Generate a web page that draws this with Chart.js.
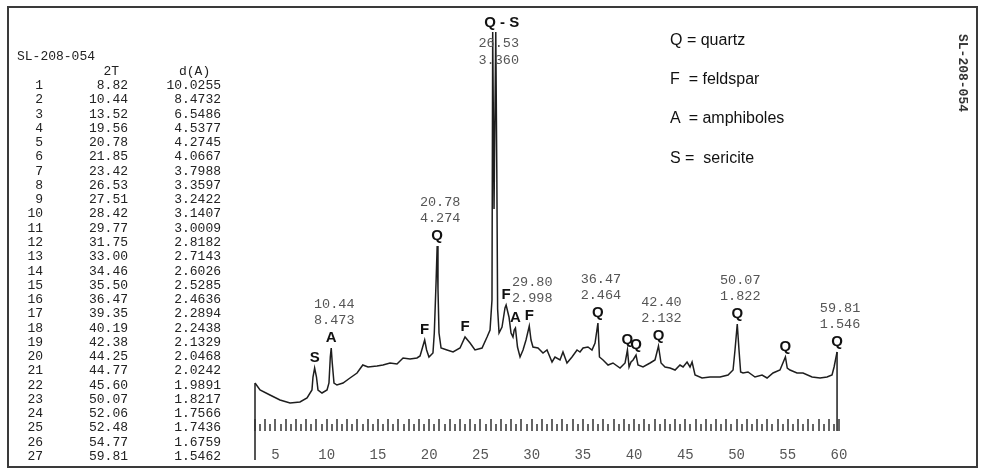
<!DOCTYPE html>
<html><head><meta charset="utf-8">
<script src="https://cdn.jsdelivr.net/npm/chart.js@4.4.1/dist/chart.umd.min.js"></script>
<style>
html,body{margin:0;padding:0;background:#fff;}
#wrap{position:relative;width:981px;height:470px;overflow:hidden;background:#fff;}
#frame{position:absolute;left:7px;top:6px;width:971px;height:462px;border:2px solid #3a3a3a;box-sizing:border-box;}
canvas{position:absolute;left:0;top:0;}
.cell{position:absolute;font-family:"Liberation Mono",monospace;font-size:13px;color:#222;white-space:pre;line-height:14px;height:14px;}
.leg{position:absolute;left:670px;font-family:"Liberation Sans",Arial,sans-serif;font-size:16px;color:#111;white-space:pre;line-height:18px;height:18px;}
#sid{position:absolute;left:922px;top:66px;width:80px;text-align:center;font-family:"Liberation Mono",monospace;font-size:13px;font-weight:bold;color:#333;line-height:14px;transform:rotate(90deg);transform-origin:40px 7px;white-space:pre;}
</style></head>
<body>
<div id="wrap">
<div id="frame"></div>
<canvas id="c" width="981" height="470"></canvas>
<div id="sid"></div>
</div>
<script>
// ---- data ----
const sampleId = "SL-208-054";
const twoTheta = [3.00,3.49,4.46,5.44,6.42,7.39,8.08,8.56,8.66,8.82,
9.00,9.15,9.54,10.03,10.22,10.35,10.44,10.54,10.71,11.00,
11.59,12.27,12.96,13.52,14.03,14.91,15.49,16.18,16.86,17.45,
18.13,18.81,19.11,19.56,19.75,19.98,20.37,20.50,20.67,20.78,
20.86,20.96,21.16,21.74,22.33,23.01,23.50,23.99,24.47,25.16,
25.65,25.94,26.13,26.20,26.33,26.50,26.60,26.68,26.82,27.11,
27.40,27.51,27.79,27.99,28.18,28.30,28.42,28.62,28.87,29.16,
29.45,29.77,29.94,30.13,30.62,31.11,31.50,31.99,32.28,32.77,
33.06,33.45,33.94,34.43,34.72,35.02,35.50,35.89,36.19,36.47,
36.62,36.97,37.46,37.94,38.63,39.12,39.35,39.51,39.70,39.90,
40.19,40.38,40.87,41.56,42.04,42.38,42.63,43.02,43.51,44.00,
44.48,44.78,45.17,45.46,45.66,45.95,46.63,47.41,48.39,49.17,
49.66,49.85,50.07,50.24,50.40,50.63,51.12,51.80,52.49,52.98,
53.56,54.24,54.77,54.95,55.22,55.90,56.49,57.37,58.15,58.83,
59.32,59.52,59.81];
const intensity = [36,29,24,19,16,17,21,29,42,51,
42,29,26,29,36,62,71,56,36,34,
36,41,46,54,52,53,54,56,55,61,
60,61,63,79,69,62,66,86,136,173,
130,86,71,69,67,71,82,76,69,71,
82,89,119,387,210,387,250,110,86,92,
111,114,102,86,82,89,91,72,62,69,
79,93,79,72,71,66,69,57,62,59,
67,56,62,69,67,71,72,69,76,96,
62,59,54,56,51,56,69,52,57,59,
64,54,52,56,59,73,56,52,51,49,
54,52,57,52,57,44,41,42,42,44,
49,69,95,69,47,46,47,42,44,41,
46,49,62,51,49,46,46,42,41,42,
44,52,67];

// peak identifications
const peakTheta = [8.82,10.44,19.56,20.78,23.42,26.53,27.51,28.42,29.77,36.47,39.35,40.19,42.38,50.07,54.77,59.81];
const peakPhase = ["S","A","F","Q","F","Q - S","F","A","F","Q","Q","Q","Q","Q","Q","Q"];
const peakLabel2T = ["","10.44","","20.78","","26.53","","","29.80","36.47","","","42.40","50.07","","59.81"];
const peakLabelD  = ["","8.473","","4.274","","3.360","","","2.998","2.464","","","2.132","1.822","","1.546"];

// mineral legend
const phaseCodes = ["Q","F ","A ","S"];
const phaseNames = ["quartz","feldspar","amphiboles"," sericite"];

// peak table
const table2T = ["8.82","10.44","13.52","19.56","20.78","21.85","23.42","26.53","27.51","28.42","29.77","31.75","33.00","34.46","35.50","36.47","39.35","40.19","42.38","44.25","44.77","45.60","50.07","52.06","52.48","54.77","59.81"];
const tableD  = ["10.0255","8.4732","6.5486","4.5377","4.2745","4.0667","3.7988","3.3597","3.2422","3.1407","3.0009","2.8182","2.7143","2.6026","2.5285","2.4636","2.2894","2.2438","2.1329","2.0468","2.0242","1.9891","1.8217","1.7566","1.7436","1.6759","1.5462"];

// x-axis tick labels
const xTickLabels = [5,10,15,20,25,30,35,40,45,50,55,60];

// ---- HTML text parts ----
const wrap = document.getElementById('wrap');
function addCell(txt, css){
  const d = document.createElement('div');
  d.className = 'cell';
  d.textContent = txt;
  Object.assign(d.style, css);
  wrap.appendChild(d);
}
addCell(sampleId, {left:'17px', top:'50px'});
addCell('2T', {right:(981-119)+'px', top:'65px'});
addCell('d(A)', {left:'179px', top:'65px'});
table2T.forEach((v,i)=>{
  const top = Math.round(79 + i*14.27) + 'px';
  addCell(String(i+1), {right:(981-43)+'px', top});
  addCell(v, {right:(981-128)+'px', top});
  addCell(tableD[i], {right:(981-221)+'px', top});
});
phaseCodes.forEach((c,i)=>{
  const d = document.createElement('div');
  d.className = 'leg';
  d.style.top = (31 + i*39.2) + 'px';
  d.textContent = c + ' = ' + phaseNames[i];
  wrap.appendChild(d);
});
document.getElementById('sid').textContent = sampleId;

// ---- chart ----
const traceColor = '#1e1e1e';
const annot = {
  id:'annot',
  afterDatasetsDraw(chart){
    const ctx = chart.ctx, xs = chart.scales.x, ys = chart.scales.y, area = chart.chartArea;
    ctx.save();
    // pen start / end lines
    ctx.strokeStyle = traceColor; ctx.lineWidth = 1.5;
    const n = twoTheta.length - 1;
    ctx.beginPath();
    ctx.moveTo(xs.getPixelForValue(twoTheta[0]), ys.getPixelForValue(intensity[0]));
    ctx.lineTo(xs.getPixelForValue(twoTheta[0]), area.bottom + 41);
    ctx.moveTo(xs.getPixelForValue(twoTheta[n]), ys.getPixelForValue(intensity[n]));
    ctx.lineTo(xs.getPixelForValue(twoTheta[n]), area.bottom + 12);
    ctx.stroke();
    // ruler ticks
    ctx.strokeStyle = '#333'; ctx.lineWidth = 1.5;
    ctx.beginPath();
    xs.ticks.forEach(t=>{
      const px = Math.round(xs.getPixelForValue(t.value));
      const tall = Math.abs(t.value - Math.round(t.value)) < 1e-6;
      ctx.moveTo(px, area.bottom + (tall ? 0 : 5));
      ctx.lineTo(px, area.bottom + 12);
    });
    ctx.stroke();
    // peak labels
    ctx.textAlign = 'center'; ctx.textBaseline = 'middle';
    peakTheta.forEach((th,i)=>{
      let best = -1, bi = 0;
      twoTheta.forEach((t,j)=>{
        if (Math.abs(t-th) <= 0.3) {
          const v = intensity[j];
          if (v > best || (v === best && Math.abs(t-th) < Math.abs(twoTheta[bi]-th))) { best = v; bi = j; }
        }
      });
      const px = xs.getPixelForValue(twoTheta[bi]);
      const py = ys.getPixelForValue(intensity[bi]);
      let letterY = py - 10, dY = letterY - 18, tY = letterY - 34;
      if (tY < area.top + 10) { letterY = area.top + 4; tY = letterY + 20; dY = letterY + 37; }
      ctx.fillStyle = '#111';
      ctx.font = 'bold 15px "Liberation Sans", Arial, sans-serif';
      ctx.fillText(peakPhase[i], px + (tY > letterY ? 6 : 0), letterY);
      ctx.fillStyle = '#555';
      ctx.font = '13.5px "Liberation Mono", monospace';
      if (peakLabel2T[i]) ctx.fillText(peakLabel2T[i], px + 3, tY);
      if (peakLabelD[i]) ctx.fillText(peakLabelD[i], px + 3, dY);
    });
    ctx.restore();
  }
};

new Chart(document.getElementById('c'), {
  type:'line',
  data:{
    datasets:[{
      data: twoTheta.map((t,i)=>({x:t, y:intensity[i]})),
      borderColor: traceColor,
      borderWidth: 1.5,
      pointRadius: 0,
      tension: 0,
      fill: false
    }]
  },
  options:{
    responsive:false,
    animation:false,
    devicePixelRatio:1,
    layout:{padding:{left:255, right:142, top:19, bottom:0}},
    plugins:{legend:{display:false}, tooltip:{enabled:false}},
    scales:{
      x:{
        type:'linear', min:3, max:60,
        border:{display:false},
        afterFit:(s)=>{ s.height = 51; },
        grid:{display:true, drawOnChartArea:false, drawTicks:true, tickLength:12, color:'rgba(0,0,0,0)'},
        ticks:{
          stepSize:0.5, autoSkip:false, maxRotation:0, minRotation:0, maxTicksLimit:300, padding:16,
          color:'#555', font:{family:'"Liberation Mono", monospace', size:14},
          callback:(v)=> xTickLabels.includes(v) ? String(v) : ''
        }
      },
      y:{ type:'linear', min:0, max:400, display:false }
    }
  },
  plugins:[annot]
});
</script>
</body></html>
